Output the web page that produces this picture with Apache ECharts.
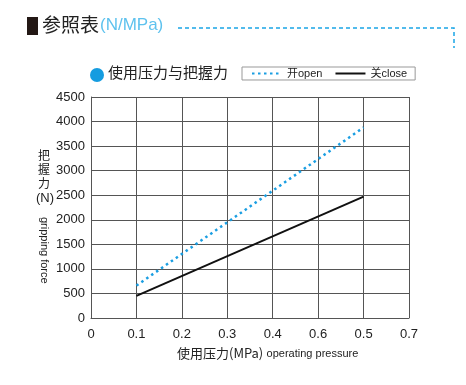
<!DOCTYPE html>
<html><head><meta charset="utf-8">
<script src="https://cdn.jsdelivr.net/npm/echarts@6/dist/echarts.min.js"></script>
<style>html,body{margin:0;padding:0;background:#fff}#c{width:466px;height:385px}</style>
</head><body><div id="c"></div>
<script>
var xTickLabels = ['0', '0.1', '0.2', '0.3', '0.4', '0.6', '0.5', '0.7'];
var pressure = ['0.1', '0.5'];
var openForce = [660, 3880];
var closeForce = [450, 2470];
var yTicks = [0, 500, 1000, 1500, 2000, 2500, 3000, 3500, 4000, 4500];
var seriesNames = ['开open', '关close'];

var chart = echarts.init(document.getElementById('c'), null, {renderer: 'canvas'});
var font = '"Liberation Sans", Arial, sans-serif';
var cjk = '"Noto Sans CJK SC", sans-serif';
var mixed = '"Liberation Sans", "Noto Sans CJK SC", sans-serif';
var blue = '#1a9ee2';
var option = {
  backgroundColor: '#fff',
  animation: false,
  grid: {left: 91, right: 57, top: 97, bottom: 67},
  legend: {
    left: 242, top: 67, itemWidth: 30, itemHeight: 8, itemGap: 12,
    padding: [1, 8, 1, 9], borderColor: '#999', borderWidth: 1, borderRadius: 0,
    textStyle: {fontFamily: mixed, fontSize: 11, color: '#222'},
    data: [
      {name: seriesNames[0], itemStyle: {opacity: 0}},
      {name: seriesNames[1], itemStyle: {opacity: 0}}
    ]
  },
  xAxis: {
    type: 'category', data: xTickLabels, boundaryGap: false,
    axisLine: {show: true, lineStyle: {color: '#555', width: 1}},
    axisTick: {show: false},
    splitLine: {show: true, interval: 0, lineStyle: {color: '#555', width: 1}},
    axisLabel: {interval: 0, margin: 10, fontSize: 13, color: '#222', fontFamily: font}
  },
  yAxis: {
    type: 'value', min: yTicks[0], max: yTicks[yTicks.length - 1], interval: 500,
    axisLine: {show: true, lineStyle: {color: '#555', width: 1}},
    axisTick: {show: false},
    splitLine: {show: true, lineStyle: {color: '#555', width: 1}},
    axisLabel: {margin: 6, fontSize: 13, color: '#222', fontFamily: font,
      formatter: function (v) { return String(v); }}
  },
  series: [
    {
      name: seriesNames[0], type: 'line', symbol: 'none',
      data: pressure.map(function (p, i) { return [p, openForce[i]]; }),
      lineStyle: {color: blue, width: 2.5, type: [2.5, 3.5]},
      itemStyle: {color: blue}
    },
    {
      name: seriesNames[1], type: 'line', symbol: 'none',
      data: pressure.map(function (p, i) { return [p, closeForce[i]]; }),
      lineStyle: {color: '#111', width: 2},
      itemStyle: {color: '#111'}
    }
  ],
  graphic: [
    {type: 'rect', shape: {x: 27, y: 17, width: 11, height: 18}, style: {fill: '#231815'}},
    {type: 'text', left: 42, top: 15, style: {text: '参照表', font: '19px ' + cjk, fill: '#222'}},
    {type: 'text', left: 100, top: 17, style: {text: '(N/MPa)', font: '17px ' + font, fill: '#5ec2ee'}},
    {type: 'polyline', shape: {points: [[178, 28], [454, 28], [454, 48]]},
     style: {stroke: '#1aa5e6', lineWidth: 1.5, lineDash: [4, 3], fill: null}},
    {type: 'circle', shape: {cx: 97, cy: 75, r: 7}, style: {fill: '#159ce0'}},
    {type: 'text', left: 108, top: 65, style: {text: '使用压力与把握力', font: '15px ' + cjk, fill: '#222'}},
    {type: 'text', left: 38, top: 148, style: {text: '把\n握\n力', font: '12px ' + cjk, fill: '#222', lineHeight: 14}},
    {type: 'text', left: 36, top: 192, style: {text: '(N)', font: '13px ' + font, fill: '#222'}},
    {type: 'text', x: 44, y: 217, rotation: -Math.PI / 2,
     style: {text: 'gripping force', font: '11px ' + font, fill: '#222', textAlign: 'left', textVerticalAlign: 'middle'}},
    {type: 'text', left: 177, top: 347, style: {
      text: '{a|使用压力(MPa)} {b|operating pressure}',
      rich: {a: {font: '13px ' + cjk, fill: '#222'}, b: {font: '11px ' + font, fill: '#222'}}
    }}
  ]
};
chart.setOption(option);
</script></body></html>
